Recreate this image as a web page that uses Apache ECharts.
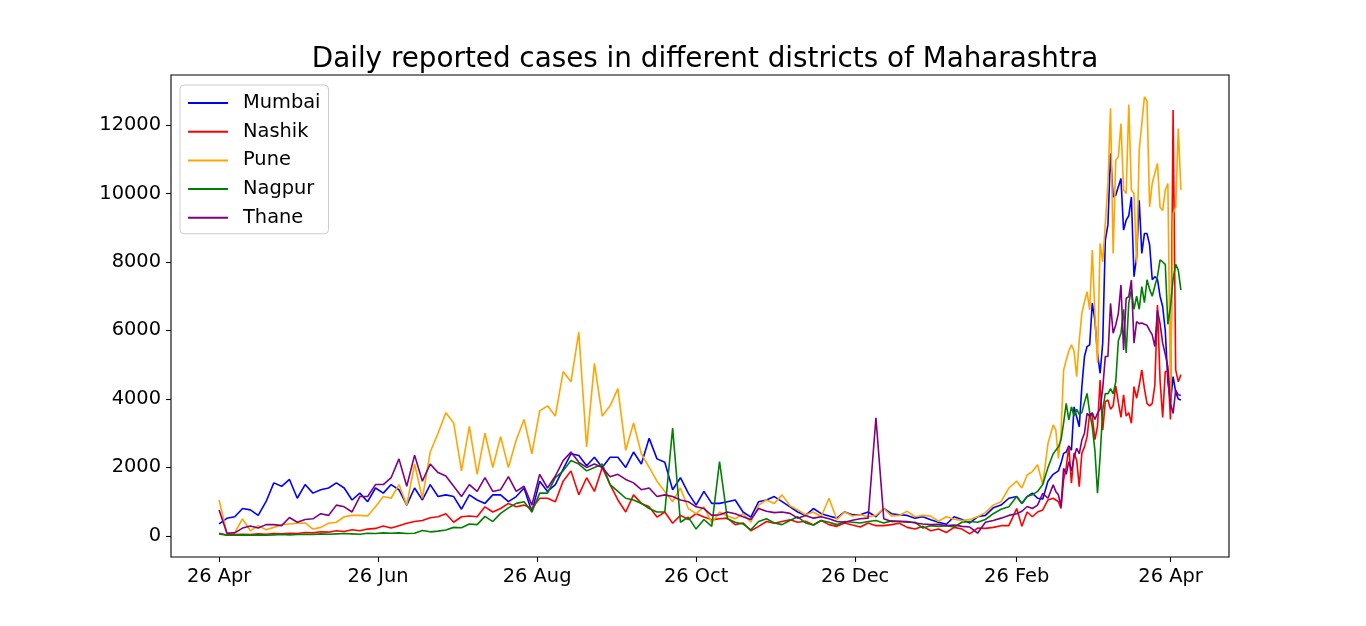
<!DOCTYPE html>
<html><head><meta charset="utf-8">
<script src="https://cdn.jsdelivr.net/npm/echarts@6/dist/echarts.min.js"></script>
<style>html,body{margin:0;padding:0;background:#fff}#c{width:1366px;height:626px}</style>
</head><body><div id="c"></div>
<script>
// Day offsets from 26 Apr 2020 (sampled: every 3 days, then 2, then daily)
const startDate = '2020-04-26';
const dayOffsets = [];
for (let d = 0; d <= 306; d += 3) dayOffsets.push(d);
for (let d = 308; d <= 320; d += 2) dayOffsets.push(d);
for (let d = 321; d <= 369; d++) dayOffsets.push(d);

const seriesNames = ['Mumbai', 'Nashik', 'Pune', 'Nagpur', 'Thane'];

const mumbai = [350,515,560,800,760,600,1000,1550,1450,1650,1100,1500,1250,1350,1400,1550,1400,1050,1250,1000,1400,1250,1500,1350,900,
1400,1050,1500,1150,1200,1150,780,1200,1050,950,1200,1200,1000,1150,1400,700,1600,1300,1500,1950,
2400,2350,2050,2300,2000,2300,2300,2000,2450,2100,2850,2250,2150,1350,1700,1250,900,1300,950,950,
1000,1050,700,550,1000,1050,1150,1000,850,700,600,800,650,580,520,700,620,620,700,560,
800,650,620,600,520,560,470,400,340,560,480,380,560,600,820,900,1100,1150,
950,1150,1250,1100,1080,1600,1800,
1850,1900,2120,2410,2450,2630,2500,3770,3480,3190,
4360,5240,5530,5580,6800,6300,5330,4750,5630,8640,
9090,11170,9900,9950,10200,10440,8930,9220,9350,9900,
7570,8150,9800,8250,8830,8830,8500,7480,7570,7500,
7000,6700,6000,4500,3900,4650,4200,4000,3970];

const nashik = [80,30,40,50,40,60,50,70,60,80,70,100,90,120,110,150,130,180,150,200,220,290,230,300,370,
420,450,530,560,650,400,560,580,560,850,700,800,950,850,900,800,1100,1100,1000,1600,
1900,1200,1700,1300,2000,1500,1050,700,1200,950,850,550,700,370,600,480,650,550,470,500,
520,330,380,150,280,420,370,420,470,400,430,320,450,330,280,380,320,260,380,300,
300,330,370,250,200,280,150,200,100,250,200,60,230,220,250,300,300,800,
280,700,560,700,760,1050,1100,
1050,1000,800,1635,2000,2610,1540,2420,2220,1440,
2420,2600,2900,3580,3500,2810,3200,4550,3090,3920,
3970,3700,3800,4380,3900,3460,4120,3500,3600,3290,
4360,4020,4400,4850,4300,3870,3800,3870,4400,6740,
4550,3460,4800,4800,3400,12440,4850,4500,4710];

const pune = [1050,80,100,500,150,300,180,250,330,350,370,380,200,250,370,400,560,600,600,580,850,1150,1100,1500,900,
2100,1100,2450,3000,3600,3300,1900,3200,1800,3000,2000,2900,2000,2800,3400,2400,3650,3800,3500,4800,
4500,5950,2600,5040,3500,3800,4300,2500,3300,2400,2000,1600,1300,1000,1400,800,650,850,380,700,
580,500,650,400,900,1050,950,1200,880,760,620,700,560,1100,480,700,580,620,560,600,
800,580,600,720,560,600,580,430,560,490,450,480,560,680,900,1000,1400,1600,
1400,1780,1880,2080,1500,2700,3240,
3100,2260,3000,4840,5140,5400,5580,5400,4650,5720,
6500,6840,7130,6600,8350,6500,5050,8540,8000,9120,
10290,12490,8250,10970,11070,12040,10100,10000,12600,10100,
10000,7960,11270,12040,12820,12700,9610,10300,10590,10880,
9600,9500,10100,10290,4000,9410,9610,11900,10100];

const nagpur = [60,20,20,30,20,30,20,30,40,30,40,50,40,60,50,60,70,60,50,80,70,90,80,90,70,
80,160,120,140,175,250,240,350,330,570,420,660,820,950,1000,700,1250,1250,1700,1900,
2200,2100,1900,2000,2100,1500,1300,1100,1050,950,800,700,700,3150,400,550,200,480,280,2170,
500,400,350,180,420,500,380,330,450,560,380,320,450,400,330,420,400,380,420,450,
380,440,420,400,400,230,300,280,300,260,400,420,400,480,650,780,850,1150,
950,1150,1200,1300,1500,2000,2400,
2500,2600,2800,3300,3870,3390,3770,3500,3700,3550,
3600,3900,4160,3600,3190,2500,1245,2310,3680,4160,
4150,4300,4150,4500,5700,5920,6620,5340,6800,7190,
6620,7000,6620,7280,6810,7480,7200,7000,7300,7580,
8060,8000,7930,6180,6700,7500,7930,7760,7180];

const thane = [760,80,90,230,290,230,330,330,300,540,400,480,500,650,600,900,850,700,1150,1150,1500,1500,1700,2250,1450,
2360,1600,2100,1850,1750,1450,1150,1500,1300,1700,1300,1350,1730,1300,1450,900,1800,1400,1750,2200,
2450,2150,2000,2100,2000,1730,1800,1650,1550,1350,1400,1150,1200,1150,1050,1000,850,800,600,620,
700,650,560,480,800,720,680,700,660,520,600,520,560,500,420,400,460,500,520,3450,
500,420,430,420,380,350,330,340,300,320,280,260,80,400,450,520,600,650,
720,860,800,900,1245,1100,1490,
1300,1200,860,1975,1800,2170,1900,2300,2560,2400,
2800,3000,3580,3500,3600,3400,3580,3710,4300,5240,
5240,6790,5920,6160,6500,7330,5430,6940,6990,7470,
5630,6260,6200,6220,6180,6150,6000,5870,5530,6590,
6200,5630,5300,4940,3870,3580,4260,4120,4100];

const tickDates = ['2020-04-26','2020-06-26','2020-08-26','2020-10-26','2020-12-26','2021-02-26','2021-04-26'];
const tickLabels = ['26 Apr','26 Jun','26 Aug','26 Oct','26 Dec','26 Feb','26 Apr'];
const yTicks = [0,2000,4000,6000,8000,10000,12000];
const colors = ['#0000ff','#ff0000','#ffa500','#008000','#800080'];

const DAY = 86400000;
const t0 = Date.parse(startDate + 'T00:00:00Z');
const xs = dayOffsets.map(d => t0 + d * DAY);
const span = dayOffsets[dayOffsets.length - 1] * DAY;
const xMin = t0 - 0.05 * span, xMax = xs[xs.length - 1] + 0.05 * span;
const tickTs = tickDates.map(s => Date.parse(s + 'T00:00:00Z'));

const allVals = [mumbai, nashik, pune, nagpur, thane];
const font = 'DejaVu Sans';

const chart = echarts.init(document.getElementById('c'), null, {renderer: 'canvas'});
chart.setOption({
  animation: false,
  backgroundColor: '#ffffff',
  title: {
    text: 'Daily reported cases in different districts of Maharashtra',
    left: 700, top: 41, textAlign: 'center',
    textStyle: {fontFamily: font, fontSize: 27.8, fontWeight: 'normal', color: '#000'}
  },
  legend: {
    orient: 'vertical', left: 180, top: 85,
    data: seriesNames,
    icon: 'rect', itemWidth: 40, itemHeight: 2, itemGap: 8.7,
    padding: [8, 8, 6, 8],
    backgroundColor: 'rgba(255,255,255,0.8)', borderColor: '#cccccc', borderWidth: 1, borderRadius: 4,
    textStyle: {fontFamily: font, fontSize: 19.4, color: '#000', lineHeight: 20, padding: [0, 0, 0, 10]}
  },
  grid: {left: 171, right: 137, top: 75, bottom: 69, show: true, borderColor: '#000', borderWidth: 1.1, backgroundColor: 'transparent'},
  xAxis: {
    type: 'value', min: xMin, max: xMax,
    axisLine: {show: false, onZero: false},
    splitLine: {show: false},
    axisTick: {show: true, length: 5, lineStyle: {color: '#000', width: 1.1}, customValues: tickTs},
    axisLabel: {
      customValues: tickTs, margin: 10,
      fontFamily: font, fontSize: 19.4, color: '#000',
      formatter: v => { const i = tickTs.indexOf(v); return i >= 0 ? tickLabels[i] : ''; }
    }
  },
  yAxis: {
    type: 'value', min: -615, max: 13460,
    axisLine: {show: false, onZero: false},
    splitLine: {show: false},
    axisTick: {show: true, length: 5, lineStyle: {color: '#000', width: 1.1}, customValues: yTicks},
    axisLabel: {customValues: yTicks, margin: 10, fontFamily: font, fontSize: 19.4, color: '#000',
      formatter: v => String(v)}
  },
  series: seriesNames.map((n, k) => ({
    name: n, type: 'line', showSymbol: false, symbol: 'none',
    data: xs.map((x, i) => [x, allVals[k][i]]),
    lineStyle: {color: colors[k], width: 1.6},
    itemStyle: {color: colors[k]},
    z: 2 + k
  }))
});
</script></body></html>
